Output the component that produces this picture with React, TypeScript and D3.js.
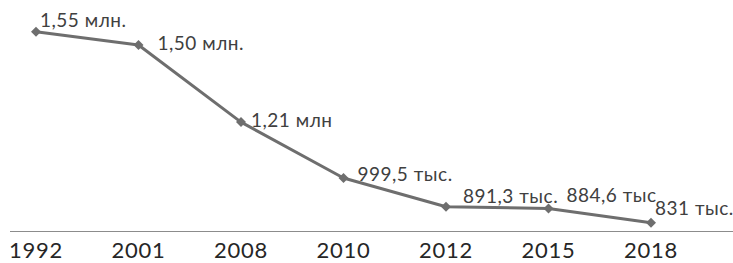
import React from "react";
import * as d3 from "d3";

const years = ["1992", "2001", "2008", "2010", "2012", "2015", "2018"];
const values = [1550000, 1500000, 1210000, 999500, 891300, 884600, 831000];
const labels = ["1,55 млн.", "1,50 млн.", "1,21 млн", "999,5 тыс.", "891,3 тыс.", "884,6 тыс", "831 тыс."];
// label placement offsets (dx, dy) relative to each point
const labelDx = [4, 19, 10, 14, 17, 18, 4];
const labelDy = [-5, 5, 5, 3, -4, -7, -8];

const W = 733;
const H = 263;

export default function App() {
  const x = d3.scalePoint<string>().domain(years).range([36, 651]);
  const y = d3.scaleLinear().domain([800000, 1600000]).range([231, 18.5]);
  const line = d3
    .line<number>()
    .x((_, i) => x(years[i]) as number)
    .y((d) => y(d));
  const marker = d3.symbol().type(d3.symbolSquare).size(50)() as string;
  const lineColor = "#6e6e6e";
  const font = "Lato, 'Open Sans', sans-serif";
  return (
    <svg width={W} height={H} style={{ position: "absolute", left: 0, top: 0 }}>
      <line x1={10} x2={733} y1={231.5} y2={231.5} stroke="#8c8c8c" strokeWidth={1} />
      <path d={line(values) || ""} fill="none" stroke={lineColor} strokeWidth={3} strokeLinejoin="round" />
      {values.map((v, i) => (
        <path
          key={"m" + i}
          d={marker}
          transform={`translate(${x(years[i])},${y(v)}) rotate(45)`}
          fill={lineColor}
        />
      ))}
      {values.map((v, i) => (
        <text
          key={"l" + i}
          x={(x(years[i]) as number) + labelDx[i]}
          y={y(v) + labelDy[i]}
          fontFamily={font}
          fontSize={19}
          letterSpacing={0.5}
          fill="#404040"
        >
          {labels[i]}
        </text>
      ))}
      {years.map((yr) => (
        <text
          key={"t" + yr}
          x={x(yr) as number}
          y={258}
          textAnchor="middle"
          fontFamily={font}
          fontSize={22}
          letterSpacing={0.8}
          fill="#262626"
        >
          {yr}
        </text>
      ))}
    </svg>
  );
}
